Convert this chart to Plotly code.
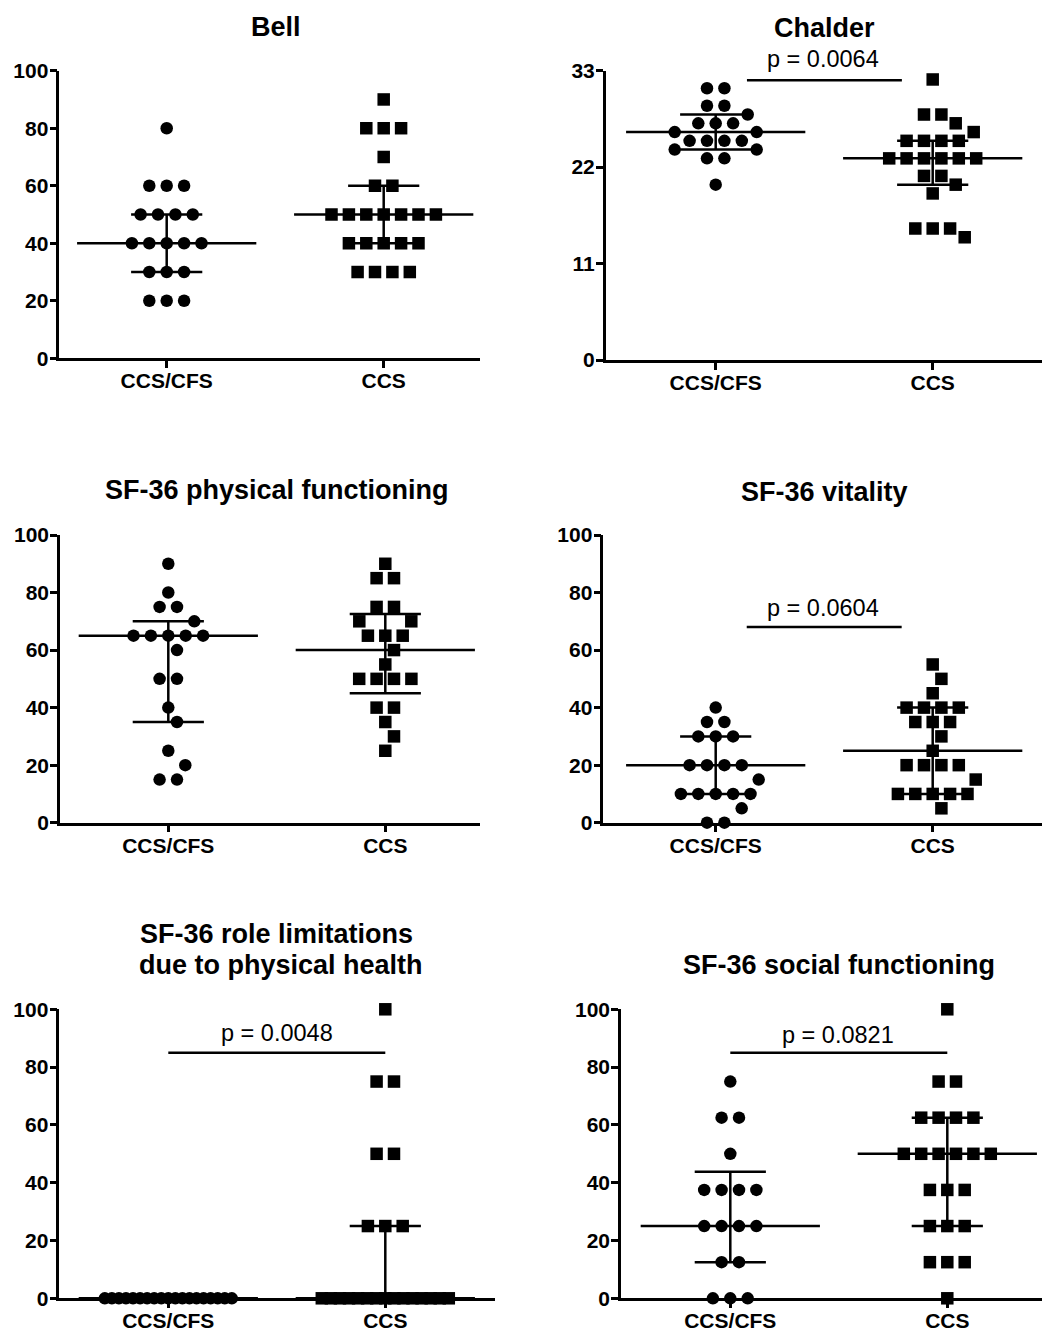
import math
from collections import Counter
import plotly.graph_objects as go

W, H = 1045, 1331
categories = ["CCS/CFS", "CCS"]

# ---------------- data ----------------
bell_cfs = [80, 60, 60, 60, 50, 50, 50, 50, 40, 40, 40, 40, 40, 30, 30, 30, 20, 20, 20]
bell_ccs = [90, 80, 80, 80, 70, 60, 60, 50, 50, 50, 50, 50, 50, 50,
            40, 40, 40, 40, 40, 30, 30, 30, 30]

chalder_cfs = [31, 31, 29, 29, 28, 27, 27, 27, 26, 26, 25, 25, 25, 25, 24, 24, 23, 23, 20]
chalder_ccs = [32, 28, 28, 27, 26, 25, 25, 25, 25, 23, 23, 23, 23, 23, 23,
               21, 21, 20, 19, 15, 15, 15, 14]

pf_cfs = [90, 80, 75, 75, 70, 65, 65, 65, 65, 65, 60, 50, 50, 40, 35, 25, 20, 15, 15]
pf_ccs = [90, 85, 85, 75, 75, 70, 70, 65, 65, 65, 60, 55, 50, 50, 50, 50, 40, 40, 35, 30, 25]

vit_cfs = [40, 35, 35, 30, 30, 30, 20, 20, 20, 20, 15, 10, 10, 10, 10, 10, 5, 0, 0]
vit_ccs = [55, 50, 45, 40, 40, 40, 40, 35, 35, 35, 30, 25, 20, 20, 20, 20, 15,
           10, 10, 10, 10, 10, 5]

role_cfs = [0, 0, 0, 0, 0, 0, 0, 0, 0, 0, 0, 0, 0, 0, 0, 0, 0, 0, 0]
role_ccs = [100, 75, 75, 50, 50, 25, 25, 25, 0, 0, 0, 0, 0, 0, 0, 0, 0, 0, 0, 0, 0, 0, 0]

soc_cfs = [75, 62.5, 62.5, 50, 37.5, 37.5, 37.5, 37.5, 25, 25, 25, 25, 12.5, 12.5, 0, 0, 0]
soc_ccs = [100, 75, 75, 62.5, 62.5, 62.5, 62.5, 50, 50, 50, 50, 50, 50,
           37.5, 37.5, 37.5, 25, 25, 25, 12.5, 12.5, 12.5, 0]

titles = ["Bell", "Chalder", "SF-36 physical functioning", "SF-36 vitality",
          "SF-36 role limitations|due to physical health", "SF-36 social functioning"]
p_labels = [None, "p = 0.0064", None, "p = 0.0604", "p = 0.0048", "p = 0.0821"]
y_ticks = [[0, 20, 40, 60, 80, 100], [0, 11, 22, 33], [0, 20, 40, 60, 80, 100],
           [0, 20, 40, 60, 80, 100], [0, 20, 40, 60, 80, 100], [0, 20, 40, 60, 80, 100]]
panel_data = [(bell_cfs, bell_ccs), (chalder_cfs, chalder_ccs), (pf_cfs, pf_ccs),
              (vit_cfs, vit_ccs), (role_cfs, role_ccs), (soc_cfs, soc_ccs)]

# ---------------- layout (pixel geometry) ----------------
CAT_PX = 217.0
# left px, right px, top px (ymax), bottom px (0), category-0 px
boxes = [
    (59.3, 480.0, 70.7, 358.3, 166.7),
    (605.7, 1042.0, 70.7, 360.0, 715.7),
    (60.0, 480.0, 535.0, 822.7, 168.3),
    (603.3, 1042.0, 535.0, 822.7, 715.7),
    (59.3, 495.0, 1009.3, 1298.3, 168.3),
    (621.0, 1042.0, 1009.3, 1298.3, 730.3),
]
title_pos = [[(275.5, 27)], [(824, 28)], [(276.5, 490)], [(824, 492)],
             [(276.7, 934), (281, 965)], [(839, 965)]]
# significance bar: x0, x1 (category units), y (data), text centre px x, px y
sig = [None,
       (0.144, 0.858, 31.9, 823, 59),
       None,
       (0.143, 0.857, 68.0, 823, 608),
       (0.0, 1.0, 85.0, 277, 1033),
       (0.0, 1.0, 85.0, 838, 1035)]

FONT = "Liberation Sans, Arial, Helvetica, sans-serif"
MED_HALF = 0.413
CAP_HALF = 0.164
LW = 2.5
MSIZE = 12.5


def quantile(vals, p):
    s = sorted(vals)
    n = len(s)
    h = (n + 1) * p
    lo = int(math.floor(h))
    frac = h - lo
    if lo < 1:
        return s[0]
    if lo >= n:
        return s[-1]
    return s[lo - 1] + frac * (s[lo] - s[lo - 1])


def swarm(values, px_per_unit, step=17.4, wmax=127.0, dmin=16.5):
    counts = Counter(values)
    order = sorted(counts.items(), key=lambda kv: (-kv[1], -kv[0]))
    placed = []
    out = []
    for v, n in order:
        sp = step if (n - 1) * step <= wmax else wmax / (n - 1)
        y = v * px_per_unit

        def free(x, own):
            for (px, py) in placed + own:
                lim = sp if abs(py - y) < 1e-6 else dmin
                if (px - x) ** 2 + (py - y) ** 2 < lim ** 2 - 1e-6:
                    return False
            return True

        chosen = None
        for shift in (0.0, sp / 2, -sp / 2):
            pattern = [(i - (n - 1) / 2) * sp + shift for i in range(n)]
            if all(free(x, []) for x in pattern):
                chosen = pattern
                break
        if chosen is None:
            chosen, own, pref = [], [], 1
            for _ in range(n):
                hit = None
                for d in range(0, 400):
                    cands = [0.0] if d == 0 else [pref * d, -pref * d]
                    for c in cands:
                        if free(c, own):
                            hit = c
                            break
                    if hit is not None:
                        break
                chosen.append(hit)
                own.append((hit, y))
                pref = -1 if hit > 0 else 1
        placed += [(x, y) for x in chosen]
        out += [(x, v) for x in chosen]
    return out


fig = go.Figure()
annotations = []
shapes = []

for i in range(6):
    L, R, T, B, C0 = boxes[i]
    ymax = y_ticks[i][-1]
    xa = "x" if i == 0 else f"x{i + 1}"
    ya = "y" if i == 0 else f"y{i + 1}"
    xkey = "xaxis" if i == 0 else f"xaxis{i + 1}"
    ykey = "yaxis" if i == 0 else f"yaxis{i + 1}"
    ppu = (B - T) / ymax
    for g, vals in enumerate(panel_data[i]):
        pts = swarm(vals, ppu)
        xs = [g + dx / CAT_PX for dx, _ in pts]
        ys = [v for _, v in pts]
        q1, med, q3 = quantile(vals, 0.25), quantile(vals, 0.5), quantile(vals, 0.75)
        lx = [g - MED_HALF, g + MED_HALF, None, g - CAP_HALF, g + CAP_HALF, None,
              g - CAP_HALF, g + CAP_HALF, None, g, g]
        ly = [med, med, None, q1, q1, None, q3, q3, None, q1, q3]
        fig.add_trace(go.Scatter(x=lx, y=ly, xaxis=xa, yaxis=ya, mode="lines",
                                 line=dict(color="black", width=LW),
                                 hoverinfo="skip", showlegend=False, cliponaxis=False))
        fig.add_trace(go.Scatter(x=xs, y=ys, xaxis=xa, yaxis=ya, mode="markers",
                                 marker=dict(symbol="circle" if g == 0 else "square",
                                             size=MSIZE, color="black", line=dict(width=0)),
                                 showlegend=False, cliponaxis=False))
    x0r = (L - C0) / CAT_PX
    x1r = (R - C0) / CAT_PX
    fig.update_layout({
        xkey: dict(domain=[L / W, R / W], range=[x0r, x1r], anchor=ya,
                   tickvals=[0, 1], ticktext=categories, showline=True,
                   linecolor="black", linewidth=LW, ticks="outside", ticklen=7,
                   tickwidth=LW, tickcolor="black", showgrid=False, zeroline=False,
                   automargin=False, ticklabelstandoff=-5,
                   tickfont=dict(family=FONT, size=21, color="black", weight="bold"),
                   fixedrange=True),
        ykey: dict(domain=[1 - B / H, 1 - T / H], range=[0, ymax], anchor=xa,
                   tickvals=y_ticks[i], showline=True, linecolor="black",
                   linewidth=LW, ticks="outside", ticklen=7, tickwidth=LW,
                   tickcolor="black", showgrid=False, zeroline=False,
                   automargin=False, ticklabelstandoff=-3,
                   tickfont=dict(family=FONT, size=21, color="black", weight="bold"),
                   fixedrange=True),
    })
    for line_txt, (tx, ty) in zip(titles[i].split("|"), title_pos[i]):
        annotations.append(dict(text=line_txt, x=tx / W, y=1 - ty / H, xref="paper",
                                yref="paper", xanchor="center", yanchor="middle",
                                showarrow=False,
                                font=dict(family=FONT, size=27, color="black",
                                          weight="bold")))
    if sig[i] is not None:
        sx0, sx1, sy, tx, ty = sig[i]
        shapes.append(dict(type="line", xref=xa, yref=ya, x0=sx0, x1=sx1, y0=sy, y1=sy,
                           line=dict(color="black", width=LW)))
        annotations.append(dict(text=p_labels[i], x=tx / W, y=1 - ty / H, xref="paper",
                                yref="paper", xanchor="center", yanchor="middle",
                                showarrow=False,
                                font=dict(family=FONT, size=23.5, color="black")))

fig.update_layout(template="none", width=W, height=H,
                  margin=dict(l=0, r=0, t=0, b=0, pad=0, autoexpand=False),
                  paper_bgcolor="white", plot_bgcolor="white",
                  annotations=annotations, shapes=shapes, showlegend=False)
fig.write_html("out.html")
